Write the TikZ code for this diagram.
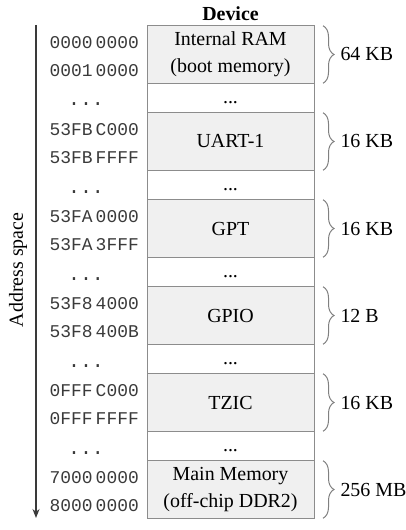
\documentclass[tikz,border=0pt]{standalone}
\usepackage{fontspec}
\setmainfont{Liberation Serif}
\setmonofont{Liberation Mono}
\usetikzlibrary{positioning,arrows.meta,decorations.pathreplacing}
\definecolor{boxfill}{HTML}{F0F0F0}
\definecolor{boxline}{HTML}{8C8C8C}
\definecolor{addrgray}{HTML}{3A3A3A}
\definecolor{bracegray}{HTML}{808080}
\newcommand{\hx}[2]{#1\hspace{3bp}#2}
\tikzset{
  membox/.style={rectangle, draw=boxline, fill=boxfill, line width=1bp, minimum width=167bp, minimum height=57.5bp,
                 inner sep=0pt, outer sep=0pt, align=center, font=\fontsize{20}{27}\selectfont},
  gapbox/.style={membox, fill=white, minimum height=29.5bp},
  addr/.style={inner sep=0pt, text=addrgray, font=\ttfamily\fontsize{18}{20}\selectfont},
  addrdots/.style={addr, font=\ttfamily\fontsize{20}{20}\selectfont},
  sizebrace/.style={decorate, decoration={brace, amplitude=11bp}, draw=bracegray, line width=1bp},
  sizelabel/.style={inner sep=0pt, font=\fontsize{20}{24}\selectfont},
  addrarrow/.style={-{Stealth[length=9bp, width=7bp]}, line width=1.2bp, draw=addrgray},
}

\begin{document}
\begin{tikzpicture}[x=1bp, y=-1bp]
  \useasboundingbox (0,0) rectangle (405,530);

  % memory map column
  \node[membox] (ram) at (230.5,54.5) {Internal RAM\\(boot memory)};
  \node[gapbox, below=0pt of ram] (gapa) {\strut...};
  \node[membox, below=0pt of gapa] (uart) {UART-1};
  \node[gapbox, below=0pt of uart] (gapb) {\strut...};
  \node[membox, below=0pt of gapb] (gpt) {GPT};
  \node[gapbox, below=0pt of gpt] (gapc) {\strut...};
  \node[membox, below=0pt of gapc] (gpio) {GPIO};
  \node[gapbox, below=0pt of gpio] (gapd) {\strut...};
  \node[membox, below=0pt of gapd] (tzic) {TZIC};
  \node[gapbox, below=0pt of tzic] (gape) {\strut...};
  \node[membox, below=0pt of gape] (mainmem) {Main Memory\\(off-chip DDR2)};
  \node[anchor=base, inner sep=0pt, font=\bfseries\fontsize{20}{24}\selectfont] (title) at ([yshift=5bp]ram.north) {Device};

  % addresses
  \node[addr, anchor=base east] (ramfrom) at ([xshift=-8bp, yshift=6bp]ram.west) {\hx{0000}{0000}};
  \node[addr, anchor=base east] (ramto) at ([xshift=-8bp, yshift=-22bp]ram.west) {\hx{0001}{0000}};
  \node[addrdots, anchor=base] (dotsa) at ([xshift=-61bp, yshift=-8bp]gapa.west) {...};
  \node[addr, anchor=base east] (uartfrom) at ([xshift=-8bp, yshift=6bp]uart.west) {\hx{53FB}{C000}};
  \node[addr, anchor=base east] (uartto) at ([xshift=-8bp, yshift=-22bp]uart.west) {\hx{53FB}{FFFF}};
  \node[addrdots, anchor=base] (dotsb) at ([xshift=-61bp, yshift=-8bp]gapb.west) {...};
  \node[addr, anchor=base east] (gptfrom) at ([xshift=-8bp, yshift=6bp]gpt.west) {\hx{53FA}{0000}};
  \node[addr, anchor=base east] (gptto) at ([xshift=-8bp, yshift=-22bp]gpt.west) {\hx{53FA}{3FFF}};
  \node[addrdots, anchor=base] (dotsc) at ([xshift=-61bp, yshift=-8bp]gapc.west) {...};
  \node[addr, anchor=base east] (gpiofrom) at ([xshift=-8bp, yshift=6bp]gpio.west) {\hx{53F8}{4000}};
  \node[addr, anchor=base east] (gpioto) at ([xshift=-8bp, yshift=-22bp]gpio.west) {\hx{53F8}{400B}};
  \node[addrdots, anchor=base] (dotsd) at ([xshift=-61bp, yshift=-8bp]gapd.west) {...};
  \node[addr, anchor=base east] (tzicfrom) at ([xshift=-8bp, yshift=6bp]tzic.west) {\hx{0FFF}{C000}};
  \node[addr, anchor=base east] (tzicto) at ([xshift=-8bp, yshift=-22bp]tzic.west) {\hx{0FFF}{FFFF}};
  \node[addrdots, anchor=base] (dotse) at ([xshift=-61bp, yshift=-8bp]gape.west) {...};
  \node[addr, anchor=base east] (mainfrom) at ([xshift=-8bp, yshift=6bp]mainmem.west) {\hx{7000}{0000}};
  \node[addr, anchor=base east] (mainto) at ([xshift=-8bp, yshift=-22bp]mainmem.west) {\hx{8000}{0000}};

  % address axis
  \coordinate (axistop) at (36,25);
  \coordinate (axisend) at (36,518);
  \draw[addrarrow] (axistop) -- (axisend);
  \node[rotate=90, inner sep=0pt, font=\fontsize{20}{24}\selectfont] (axislabel) at (18,270) {Address space};

  % sizes
  \draw[sizebrace] ([xshift=9bp]ram.north east) -- ([xshift=9bp]ram.south east) node[sizelabel, midway, right=17bp] (ramsize) {64 KB};
  \draw[sizebrace] ([xshift=9bp]uart.north east) -- ([xshift=9bp]uart.south east) node[sizelabel, midway, right=17bp] (uartsize) {16 KB};
  \draw[sizebrace] ([xshift=9bp]gpt.north east) -- ([xshift=9bp]gpt.south east) node[sizelabel, midway, right=17bp] (gptsize) {16 KB};
  \draw[sizebrace] ([xshift=9bp]gpio.north east) -- ([xshift=9bp]gpio.south east) node[sizelabel, midway, right=17bp] (gpiosize) {12 B};
  \draw[sizebrace] ([xshift=9bp]tzic.north east) -- ([xshift=9bp]tzic.south east) node[sizelabel, midway, right=17bp] (tzicsize) {16 KB};
  \draw[sizebrace] ([xshift=9bp]mainmem.north east) -- ([xshift=9bp]mainmem.south east) node[sizelabel, midway, right=17bp] (mainsize) {256 MB};
\end{tikzpicture}
\end{document}
